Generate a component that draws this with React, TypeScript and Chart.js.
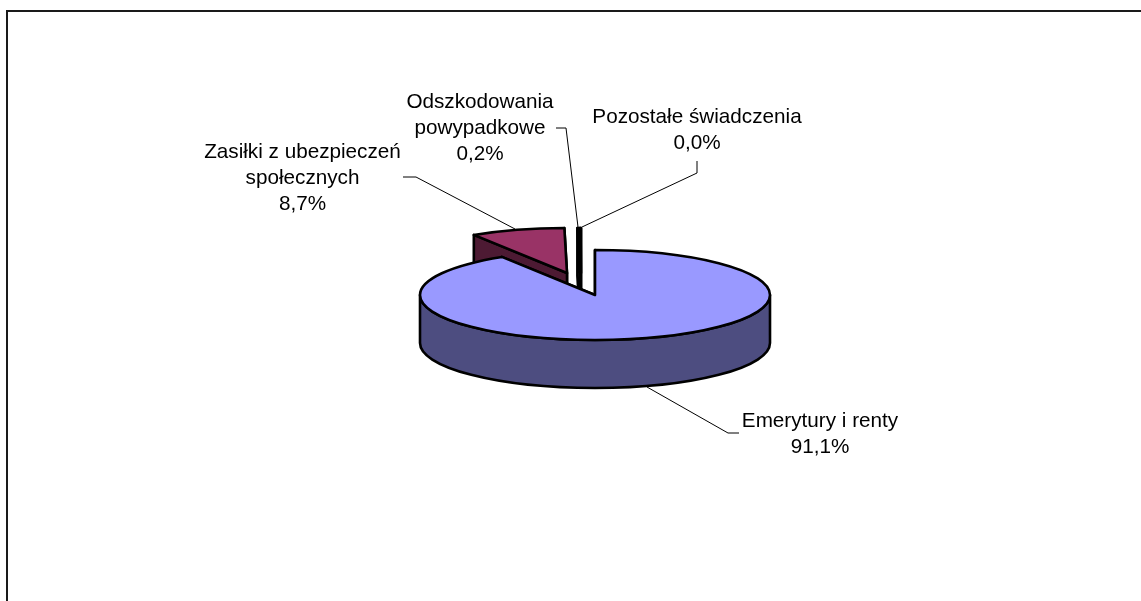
import React, { useEffect, useRef } from "react";
import { Chart, registerables } from "chart.js";

Chart.register(...registerables);

const categories = ["Emerytury i renty", "Zasiłki z ubezpieczeń społecznych", "Odszkodowania powypadkowe", "Pozostałe świadczenia"];
const values = [91.1, 8.7, 0.2, 0.04];
const topColors = ["#9999FF", "#993366", "#FFFFCC", "#CCFFFF"];
const sideColors = ["#4D4D80", "#4D1A33", "#808066", "#668080"];

const labelLines = [
  ["Emerytury i renty", "91,1%"],
  ["Zasiłki z ubezpieczeń", "społecznych", "8,7%"],
  ["Odszkodowania", "powypadkowe", "0,2%"],
  ["Pozostałe świadczenia", "0,0%"],
];
const labelCenterX = [820, 302.5, 480, 697];
const labelFirstBaseline = [427, 158, 108, 123];
const leaderLines = [
  [[647, 387], [728, 433], [739, 433]],
  [[403, 177], [416, 177], [515, 229]],
  [[556, 128], [566, 128], [578, 227]],
  [[697, 161], [697, 173], [582, 227]],
];

const pieX = 595, pieY = 295, radiusX = 175, radiusY = 45, depth = 48;
const explodeX = [0, -28, -15, -14];
const explodeY = [0, -22, -22, -22];
const drawOrder = [1, 3, 2, 0];

const pie3d = {
  id: "pie3d",
  beforeDraw(chart: any) {
    const ctx = chart.ctx;
    ctx.save();
    ctx.fillStyle = "#fff";
    ctx.fillRect(0, 0, chart.width, chart.height);
    ctx.strokeStyle = "#1a1a1a";
    ctx.lineWidth = 2;
    ctx.beginPath();
    ctx.moveTo(7, 601);
    ctx.lineTo(7, 11);
    ctx.lineTo(1141, 11);
    ctx.stroke();
    ctx.restore();
  },
  beforeDatasetsDraw(chart: any) {
    const ctx = chart.ctx;
    const arcs = chart.getDatasetMeta(0).data;
    ctx.save();
    ctx.lineWidth = 2.6;
    ctx.lineJoin = "round";
    ctx.strokeStyle = "#000";
    for (const i of drawOrder) {
      const { startAngle, endAngle, outerRadius } = arcs[i].getProps(["startAngle", "endAngle", "outerRadius"], true);
      const rx = outerRadius;
      const ry = radiusY;
      const cx = pieX + explodeX[i];
      const cy = pieY + explodeY[i];
      const px = (a: number) => cx + rx * Math.cos(a);
      const py = (a: number) => cy + ry * Math.sin(a);
      const paint = () => { ctx.fill(); ctx.stroke(); };

      ctx.fillStyle = sideColors[i];
      for (const a of [endAngle, startAngle]) {
        ctx.beginPath();
        ctx.moveTo(cx, cy);
        ctx.lineTo(px(a), py(a));
        ctx.lineTo(px(a), py(a) + depth);
        ctx.lineTo(cx, cy + depth);
        ctx.closePath();
        paint();
      }
      const w0 = Math.max(startAngle, 0);
      const w1 = Math.min(endAngle, Math.PI);
      if (w1 > w0) {
        ctx.beginPath();
        ctx.ellipse(cx, cy, rx, ry, 0, w0, w1);
        ctx.lineTo(px(w1), py(w1) + depth);
        ctx.ellipse(cx, cy + depth, rx, ry, 0, w1, w0, true);
        ctx.closePath();
        paint();
      }
      ctx.fillStyle = topColors[i];
      ctx.beginPath();
      ctx.moveTo(cx, cy);
      ctx.ellipse(cx, cy, rx, ry, 0, startAngle, endAngle);
      ctx.closePath();
      paint();
    }
    ctx.restore();

    ctx.save();
    ctx.strokeStyle = "#000";
    ctx.lineWidth = 1;
    for (const line of leaderLines) {
      ctx.beginPath();
      line.forEach(([x, y], k) => (k ? ctx.lineTo(x, y) : ctx.moveTo(x, y)));
      ctx.stroke();
    }
    ctx.fillStyle = "#000";
    ctx.font = '20.7px "Liberation Sans"';
    ctx.textAlign = "center";
    ctx.textBaseline = "alphabetic";
    labelLines.forEach((lines, i) => {
      lines.forEach((t, k) => ctx.fillText(t, labelCenterX[i], labelFirstBaseline[i] + k * 26));
    });
    ctx.restore();
    return false;
  },
};

export default function App() {
  const ref = useRef<HTMLCanvasElement>(null);
  useEffect(() => {
    const chart = new Chart(ref.current!, {
      type: "pie",
      data: {
        labels: categories,
        datasets: [{ data: values, backgroundColor: topColors, borderColor: "#000", borderWidth: 2 }],
      },
      options: {
        responsive: false,
        animation: false,
        radius: radiusX,
        plugins: { legend: { display: false }, tooltip: { enabled: false } },
      } as any,
      plugins: [pie3d],
    });
    return () => chart.destroy();
  }, []);
  return (
    <canvas
      ref={ref}
      width={1141}
      height={601}
      style={{ position: "fixed", left: 0, top: 0, display: "block", width: 1141, height: 601 }}
    />
  );
}
